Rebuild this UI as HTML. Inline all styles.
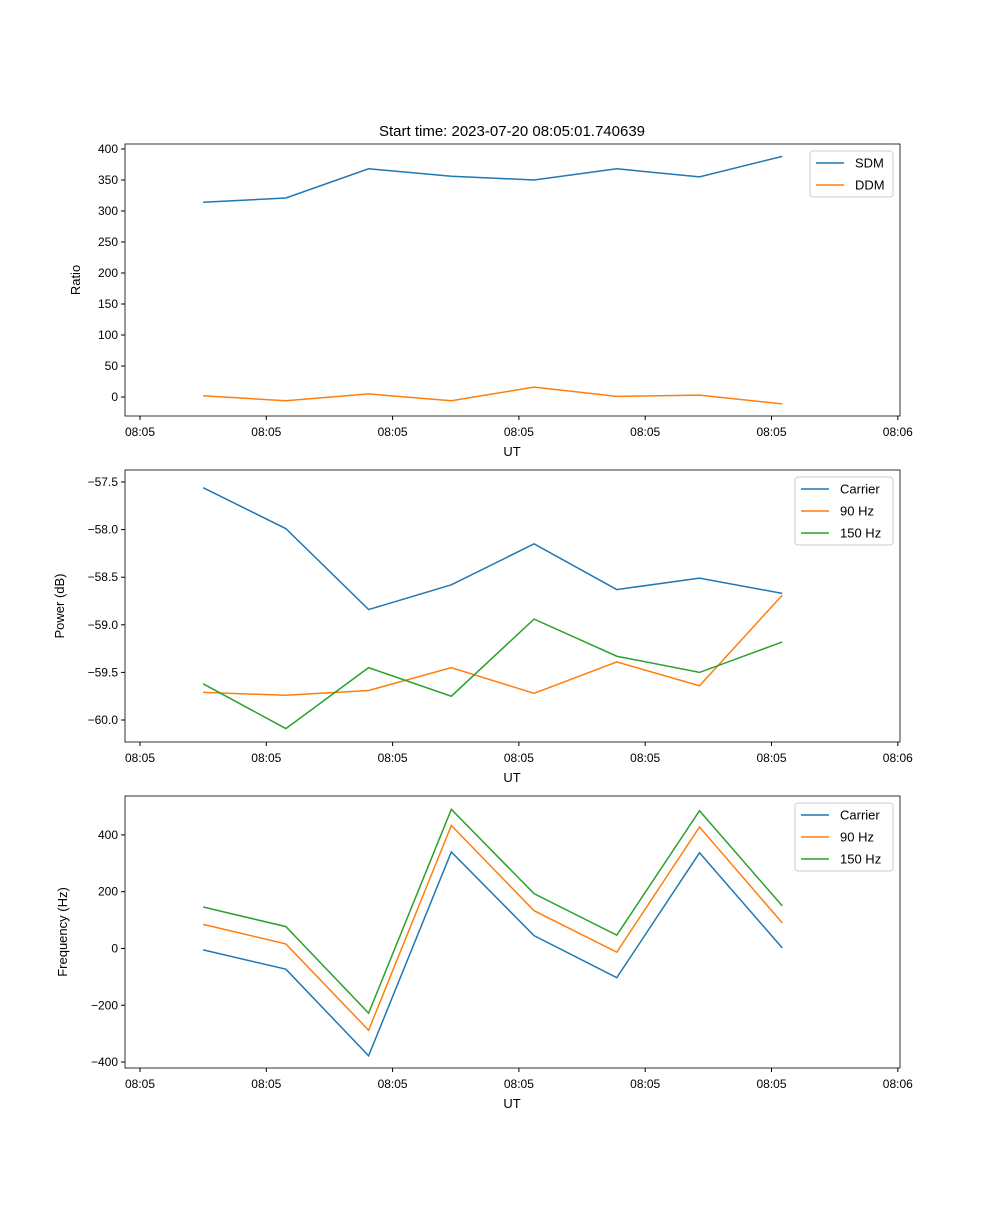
<!DOCTYPE html>
<html><head><meta charset="utf-8"><style>
body{margin:0;background:#fff;}
svg{font-family:"Liberation Sans","DejaVu Sans",sans-serif;}
</style></head><body>
<svg id="fig" width="1000" height="1200"></svg>
<script>
const tickSeconds=[0,10,20,30,40,50,60];
const tickLabels=["08:05","08:05","08:05","08:05","08:05","08:05","08:06"];
const timeSeconds=[5.0,11.55,18.1,24.65,31.2,37.75,44.3,50.85];
const sdm=[314,321,368,356,350,368,355,388];
const ddm=[2,-6,5,-6,16,1,3,-11];
const pCarrier=[-57.56,-57.99,-58.84,-58.58,-58.15,-58.63,-58.51,-58.67];
const p90=[-59.71,-59.74,-59.69,-59.45,-59.72,-59.39,-59.64,-58.69];
const p150=[-59.62,-60.09,-59.45,-59.75,-58.94,-59.33,-59.50,-59.18];
const fCarrier=[-5,-73,-378,340,45,-103,337,2];
const f90=[85,16,-288,433,133,-13,428,90];
const f150=[146,77,-228,490,193,47,485,150];
const ticks1=[0,50,100,150,200,250,300,350,400];
const ticks2=[-60.0,-59.5,-59.0,-58.5,-58.0,-57.5];
const ticks3=[-400,-200,0,200,400];
const C=["#1f77b4","#ff7f0e","#2ca02c"];
const NS="http://www.w3.org/2000/svg";
const svg=document.getElementById('fig');
function mk(t,a,p){const e=document.createElementNS(NS,t);for(const k in a)e.setAttribute(k,a[k]);(p||svg).appendChild(e);return e;}
function xs(t){return 140+t*12.63;}
function panel(name,top,ymin,ymax,yt,fmt,ylabel,series,labels,legW){
  const L=125,R=900,B=top+272;
  const g=mk('g',{});
  
  
  const ys=v=>B-(v-ymin)/(ymax-ymin)*272;
  series.forEach((s,k)=>{
    const pl=mk('polyline',{points:s.map((v,i)=>xs(timeSeconds[i])+','+ys(v)).join(' '),fill:'none',stroke:C[k],'stroke-width':1.5},g);
    
    
  });
  mk('rect',{x:L,y:top,width:R-L,height:272,fill:'none',stroke:'#000','stroke-width':0.8},g);
  tickSeconds.forEach((t,i)=>{const x=xs(t);mk('line',{x1:x,x2:x,y1:B,y2:B+4,stroke:'#000'},g);
    const tx=mk('text',{x:x,y:B+20,'font-size':12,'text-anchor':'middle'},g);tx.textContent=tickLabels[i];});
  yt.forEach(v=>{const y=ys(v);mk('line',{x1:L,x2:L-4,y1:y,y2:y,stroke:'#000'},g);
    const tx=mk('text',{x:L-7,y:y+4,'font-size':12,'text-anchor':'end'},g);tx.textContent=fmt(v);});
  const xl=mk('text',{x:512,y:B+40,'font-size':13,'text-anchor':'middle'},g);xl.textContent='UT';
  
  const yl=mk('text',{x:0,y:0,'font-size':13,'text-anchor':'middle',transform:`translate(${ylabel[1]},${top+136}) rotate(-90)`},g);yl.textContent=ylabel[0];
  
  const lx=893-legW,ly=top+7;
  const lg=mk('g',{},g);
  
  mk('rect',{x:lx,y:ly,width:legW,height:2+labels.length*22,fill:'#fff',stroke:'#ccc',rx:3},lg);
  labels.forEach((l,k)=>{const y=ly+12+k*22;mk('line',{x1:lx+6,x2:lx+34,y1:y,y2:y,stroke:C[k],'stroke-width':1.5},lg);
    const tx=mk('text',{x:lx+45,y:y+4.5,'font-size':13},lg);tx.textContent=l;});
}
const ti=mk('text',{x:512,y:136,'font-size':15,'text-anchor':'middle'});
ti.textContent='Start time: 2023-07-20 08:05:01.740639';

panel('ratio-panel',144,-30.6,408,ticks1,v=>String(v),['Ratio',80],[sdm,ddm],['SDM','DDM'],83);
panel('power-panel',470,-60.231,-57.374,ticks2,v=>(v<0?'\u2212':'')+Math.abs(v).toFixed(1),['Power (dB)',64],[pCarrier,p90,p150],['Carrier','90 Hz','150 Hz'],98);
panel('frequency-panel',796,-421,537,ticks3,v=>(v<0?'\u2212':'')+Math.abs(v),['Frequency (Hz)',67],[fCarrier,f90,f150],['Carrier','90 Hz','150 Hz'],98);
</script>
</body></html>
